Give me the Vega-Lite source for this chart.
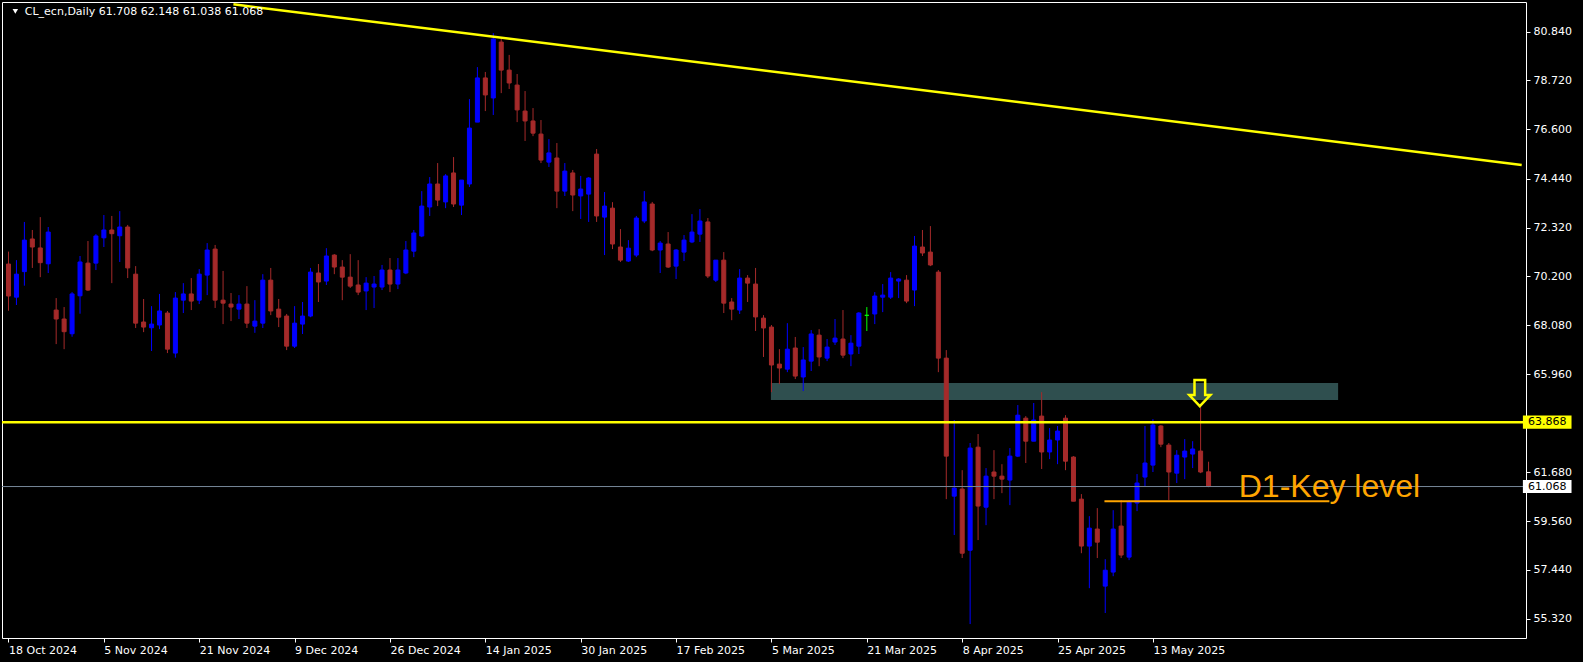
{
  "$schema": "https://vega.github.io/schema/vega-lite/v6.json",
  "width": 1524,
  "height": 636,
  "autosize": {"type": "none"},
  "padding": {"left": 2, "top": 2, "right": 57, "bottom": 24},
  "background": "#000000",
  "config": {
    "view": {"stroke": "#ffffff", "strokeWidth": 1, "fill": "#000000"},
    "axis": {"grid": false, "domain": false}
  },
  "datasets": {
    "candles": [
      {"i":0,"o":70.74,"h":71.28,"l":68.71,"c":69.35},
      {"i":1,"o":69.30,"h":70.91,"l":68.96,"c":70.30},
      {"i":2,"o":70.41,"h":72.57,"l":69.80,"c":71.78},
      {"i":3,"o":71.83,"h":72.22,"l":70.57,"c":71.48},
      {"i":4,"o":71.44,"h":72.78,"l":70.17,"c":70.80},
      {"i":5,"o":70.75,"h":72.35,"l":70.35,"c":72.13},
      {"i":6,"o":68.74,"h":69.26,"l":67.26,"c":68.35},
      {"i":7,"o":68.35,"h":68.87,"l":67.04,"c":67.80},
      {"i":8,"o":67.71,"h":69.52,"l":67.58,"c":69.44},
      {"i":9,"o":69.36,"h":71.09,"l":68.58,"c":70.83},
      {"i":10,"o":70.78,"h":71.74,"l":69.57,"c":69.61},
      {"i":11,"o":70.78,"h":72.04,"l":70.48,"c":71.96},
      {"i":12,"o":71.88,"h":72.87,"l":71.48,"c":72.22},
      {"i":13,"o":72.22,"h":72.83,"l":69.91,"c":72.06},
      {"i":14,"o":71.97,"h":73.04,"l":70.83,"c":72.35},
      {"i":15,"o":72.35,"h":72.44,"l":70.13,"c":70.57},
      {"i":16,"o":70.30,"h":70.65,"l":67.96,"c":68.17},
      {"i":17,"o":68.22,"h":69.22,"l":67.78,"c":68.00},
      {"i":18,"o":67.97,"h":68.91,"l":66.96,"c":68.13},
      {"i":19,"o":68.09,"h":69.44,"l":67.91,"c":68.70},
      {"i":20,"o":68.61,"h":68.70,"l":66.87,"c":67.04},
      {"i":21,"o":66.87,"h":69.52,"l":66.67,"c":69.26},
      {"i":22,"o":69.17,"h":69.91,"l":68.61,"c":69.44},
      {"i":23,"o":69.44,"h":70.13,"l":68.74,"c":69.13},
      {"i":24,"o":69.17,"h":70.52,"l":69.00,"c":70.30},
      {"i":25,"o":70.26,"h":71.65,"l":69.39,"c":71.35},
      {"i":26,"o":71.39,"h":71.57,"l":68.83,"c":69.17},
      {"i":27,"o":69.17,"h":70.44,"l":68.13,"c":69.04},
      {"i":28,"o":69.00,"h":69.48,"l":68.26,"c":68.87},
      {"i":29,"o":68.78,"h":69.39,"l":68.35,"c":69.00},
      {"i":30,"o":69.00,"h":69.78,"l":67.96,"c":68.17},
      {"i":31,"o":68.04,"h":69.17,"l":67.75,"c":68.26},
      {"i":32,"o":68.17,"h":70.30,"l":67.96,"c":70.04},
      {"i":33,"o":70.04,"h":70.57,"l":68.52,"c":68.70},
      {"i":34,"o":68.78,"h":69.22,"l":68.00,"c":68.43},
      {"i":35,"o":68.48,"h":68.57,"l":67.00,"c":67.17},
      {"i":36,"o":67.17,"h":68.91,"l":67.09,"c":68.17},
      {"i":37,"o":68.13,"h":69.09,"l":67.70,"c":68.48},
      {"i":38,"o":68.48,"h":70.57,"l":68.43,"c":70.39},
      {"i":39,"o":70.35,"h":70.74,"l":69.09,"c":69.96},
      {"i":40,"o":70.00,"h":71.43,"l":69.83,"c":71.09},
      {"i":41,"o":71.13,"h":71.17,"l":70.30,"c":70.61},
      {"i":42,"o":70.61,"h":70.91,"l":69.17,"c":70.17},
      {"i":43,"o":70.17,"h":71.17,"l":69.70,"c":69.78},
      {"i":44,"o":69.83,"h":70.91,"l":69.39,"c":69.52},
      {"i":45,"o":69.57,"h":70.17,"l":68.74,"c":69.91},
      {"i":46,"o":69.74,"h":70.22,"l":68.83,"c":69.87},
      {"i":47,"o":69.74,"h":70.70,"l":69.61,"c":70.48},
      {"i":48,"o":70.48,"h":71.00,"l":69.52,"c":69.87},
      {"i":49,"o":69.87,"h":71.00,"l":69.65,"c":70.48},
      {"i":50,"o":70.35,"h":71.74,"l":70.30,"c":71.35},
      {"i":51,"o":71.30,"h":72.22,"l":71.04,"c":72.09},
      {"i":52,"o":71.96,"h":73.91,"l":71.91,"c":73.26},
      {"i":53,"o":73.22,"h":74.52,"l":72.83,"c":74.22},
      {"i":54,"o":74.22,"h":75.13,"l":73.26,"c":73.52},
      {"i":55,"o":73.44,"h":74.65,"l":73.17,"c":74.57},
      {"i":56,"o":74.70,"h":75.39,"l":73.22,"c":73.35},
      {"i":57,"o":73.30,"h":74.39,"l":72.87,"c":74.39},
      {"i":58,"o":74.22,"h":77.91,"l":74.09,"c":76.65},
      {"i":59,"o":76.91,"h":79.30,"l":76.91,"c":78.83},
      {"i":60,"o":78.83,"h":79.09,"l":77.39,"c":78.09},
      {"i":61,"o":77.96,"h":80.78,"l":77.22,"c":80.52},
      {"i":62,"o":80.39,"h":80.52,"l":78.17,"c":79.17},
      {"i":63,"o":79.17,"h":79.83,"l":78.35,"c":78.61},
      {"i":64,"o":78.52,"h":79.00,"l":76.91,"c":77.44},
      {"i":65,"o":77.39,"h":78.26,"l":76.09,"c":76.96},
      {"i":66,"o":76.96,"h":77.52,"l":76.30,"c":76.43},
      {"i":67,"o":76.39,"h":77.00,"l":75.13,"c":75.26},
      {"i":68,"o":75.17,"h":76.17,"l":74.96,"c":75.57},
      {"i":69,"o":75.35,"h":76.00,"l":73.17,"c":73.91},
      {"i":70,"o":73.91,"h":75.13,"l":73.70,"c":74.78},
      {"i":71,"o":74.70,"h":74.83,"l":73.04,"c":73.74},
      {"i":72,"o":73.70,"h":74.57,"l":72.70,"c":74.00},
      {"i":73,"o":73.78,"h":74.52,"l":72.57,"c":74.48},
      {"i":74,"o":75.52,"h":75.74,"l":72.57,"c":72.83},
      {"i":75,"o":72.78,"h":73.87,"l":71.13,"c":73.26},
      {"i":76,"o":73.17,"h":73.43,"l":71.39,"c":71.61},
      {"i":77,"o":71.48,"h":72.26,"l":70.83,"c":70.91},
      {"i":78,"o":70.87,"h":71.78,"l":70.83,"c":71.43},
      {"i":79,"o":71.13,"h":72.83,"l":71.04,"c":72.74},
      {"i":80,"o":72.61,"h":73.91,"l":72.52,"c":73.44},
      {"i":81,"o":73.35,"h":73.44,"l":71.30,"c":71.35},
      {"i":82,"o":71.35,"h":71.74,"l":70.35,"c":71.65},
      {"i":83,"o":71.61,"h":72.13,"l":70.57,"c":70.61},
      {"i":84,"o":70.65,"h":71.39,"l":70.09,"c":71.35},
      {"i":85,"o":71.26,"h":72.00,"l":70.87,"c":71.78},
      {"i":86,"o":71.70,"h":72.91,"l":71.65,"c":72.13},
      {"i":87,"o":72.04,"h":73.13,"l":71.70,"c":72.61},
      {"i":88,"o":72.57,"h":72.74,"l":70.13,"c":70.22},
      {"i":89,"o":70.04,"h":70.91,"l":69.96,"c":70.91},
      {"i":90,"o":70.91,"h":71.26,"l":68.61,"c":69.04},
      {"i":91,"o":69.09,"h":69.26,"l":68.30,"c":68.78},
      {"i":92,"o":68.74,"h":70.52,"l":68.57,"c":70.13},
      {"i":93,"o":70.13,"h":70.26,"l":69.09,"c":69.91},
      {"i":94,"o":69.87,"h":70.57,"l":67.83,"c":68.44},
      {"i":95,"o":68.39,"h":68.52,"l":66.70,"c":67.96},
      {"i":96,"o":68.00,"h":68.09,"l":65.17,"c":66.35},
      {"i":97,"o":66.39,"h":67.04,"l":65.52,"c":66.22},
      {"i":98,"o":66.17,"h":68.17,"l":66.04,"c":67.04},
      {"i":99,"o":67.09,"h":67.57,"l":65.74,"c":65.87},
      {"i":100,"o":65.83,"h":67.13,"l":65.22,"c":66.57},
      {"i":101,"o":66.52,"h":67.87,"l":66.09,"c":67.70},
      {"i":102,"o":67.65,"h":67.91,"l":66.30,"c":66.70},
      {"i":103,"o":66.65,"h":67.48,"l":66.52,"c":67.13},
      {"i":104,"o":67.35,"h":68.35,"l":67.22,"c":67.52},
      {"i":105,"o":67.48,"h":68.74,"l":66.65,"c":66.78},
      {"i":106,"o":66.83,"h":67.65,"l":66.30,"c":67.30},
      {"i":107,"o":67.17,"h":68.65,"l":66.83,"c":68.61},
      {"i":108,"o":68.51,"h":68.87,"l":67.83,"c":68.51},
      {"i":109,"o":68.57,"h":69.52,"l":68.13,"c":69.35},
      {"i":110,"o":69.30,"h":69.87,"l":68.65,"c":69.39},
      {"i":111,"o":69.30,"h":70.39,"l":69.22,"c":70.13},
      {"i":112,"o":70.00,"h":70.13,"l":69.26,"c":70.09},
      {"i":113,"o":70.04,"h":70.26,"l":69.04,"c":69.13},
      {"i":114,"o":69.61,"h":71.96,"l":68.91,"c":71.52},
      {"i":115,"o":71.48,"h":72.22,"l":71.09,"c":71.22},
      {"i":116,"o":71.26,"h":72.39,"l":70.65,"c":70.70},
      {"i":117,"o":70.39,"h":70.48,"l":66.04,"c":66.65},
      {"i":118,"o":66.65,"h":67.00,"l":60.52,"c":62.39},
      {"i":119,"o":60.65,"h":63.96,"l":58.96,"c":61.00},
      {"i":120,"o":60.96,"h":61.78,"l":57.96,"c":58.17},
      {"i":121,"o":58.30,"h":62.96,"l":55.09,"c":62.74},
      {"i":122,"o":62.78,"h":63.35,"l":58.74,"c":60.22},
      {"i":123,"o":60.17,"h":61.87,"l":59.39,"c":61.52},
      {"i":124,"o":61.70,"h":62.65,"l":60.52,"c":61.52},
      {"i":125,"o":61.52,"h":62.04,"l":60.78,"c":61.39},
      {"i":126,"o":61.35,"h":62.74,"l":60.26,"c":62.39},
      {"i":127,"o":62.39,"h":64.61,"l":62.35,"c":64.17},
      {"i":128,"o":64.04,"h":64.13,"l":62.09,"c":63.04},
      {"i":129,"o":63.04,"h":64.70,"l":63.04,"c":63.96},
      {"i":130,"o":64.13,"h":65.17,"l":61.83,"c":62.57},
      {"i":131,"o":62.57,"h":63.61,"l":62.26,"c":63.09},
      {"i":132,"o":63.09,"h":63.70,"l":62.04,"c":63.48},
      {"i":133,"o":64.04,"h":64.17,"l":61.78,"c":62.17},
      {"i":134,"o":62.35,"h":62.39,"l":60.43,"c":60.43},
      {"i":135,"o":60.52,"h":60.74,"l":58.17,"c":58.48},
      {"i":136,"o":58.48,"h":59.78,"l":56.65,"c":59.26},
      {"i":137,"o":59.22,"h":60.13,"l":57.96,"c":58.65},
      {"i":138,"o":56.74,"h":57.91,"l":55.57,"c":57.43},
      {"i":139,"o":57.35,"h":60.04,"l":57.17,"c":59.22},
      {"i":140,"o":59.35,"h":60.48,"l":57.96,"c":58.09},
      {"i":141,"o":58.00,"h":60.48,"l":57.87,"c":60.39},
      {"i":142,"o":60.35,"h":61.61,"l":60.00,"c":61.22},
      {"i":143,"o":61.48,"h":63.70,"l":61.09,"c":62.09},
      {"i":144,"o":62.00,"h":64.00,"l":61.70,"c":63.74},
      {"i":145,"o":63.70,"h":63.74,"l":62.78,"c":62.91},
      {"i":146,"o":62.87,"h":62.96,"l":60.48,"c":61.70},
      {"i":147,"o":61.65,"h":62.65,"l":61.22,"c":62.43},
      {"i":148,"o":62.35,"h":63.13,"l":61.39,"c":62.61},
      {"i":149,"o":62.48,"h":63.04,"l":61.87,"c":62.70},
      {"i":150,"o":62.61,"h":64.65,"l":61.65,"c":61.70},
      {"i":151,"o":61.708,"h":62.148,"l":61.038,"c":61.068}
    ],
    "zone": [{"x1": 95.93, "x2": 167.3, "y1": 65.57, "y2": 64.83}],
    "trend": [{"i": 28.3, "v": 82.03}, {"i": 190.4, "v": 75.05}],
    "hlevel": [{"v": 63.868}],
    "bid": [{"v": 61.068}],
    "keyline": [{"x1": 137.9, "x2": 166.2, "v": 60.43}],
    "arrow": [{"i": 149.9, "v": 65.13}],
    "keytext": [{"i": 154.8, "v": 60.61, "t": "D1-Key level"}],
    "header": [{"i": 2.05, "v": 81.70, "t": "CL_ecn,Daily  61.708 62.148 61.038 61.068"}],
    "headtri": [{"i": 0.86, "v": 81.72}],
    "pricebox": [
      {"x1": 190.55, "x2": 196.67, "lo": 63.585, "hi": 64.151, "v": 63.868, "xt": 191.2, "t": "63.868", "bg": "#ffff00"},
      {"x1": 190.55, "x2": 196.67, "lo": 60.785, "hi": 61.351, "v": 61.068, "xt": 191.2, "t": "61.068", "bg": "#ffffff"}
    ]
  },
  "layer": [
    {
      "data": {"name": "zone"},
      "mark": {"type": "rect", "fill": "#2f4f4f"},
      "encoding": {
        "x": {
          "field": "x1", "type": "quantitative",
          "scale": {"domain": [-0.1875, 190.3125], "nice": false, "zero": false},
          "axis": {
            "orient": "bottom", "title": null,
            "values": [0,12,24,36,48,60,72,84,96,108,120,132,144],
            "labelExpr": "['18 Oct 2024','5 Nov 2024','21 Nov 2024','9 Dec 2024','26 Dec 2024','14 Jan 2025','30 Jan 2025','17 Feb 2025','5 Mar 2025','21 Mar 2025','8 Apr 2025','25 Apr 2025','13 May 2025'][round(datum.value/12)]",
            "labelAlign": "left", "labelBaseline": "top", "labelColor": "#ffffff",
            "labelFont": "DejaVu Sans", "labelFontSize": 11, "labelPadding": 2,
            "labelFlush": false, "labelOverlap": false,
            "tickColor": "#ffffff", "tickSize": 4, "ticks": true
          }
        },
        "x2": {"field": "x2"},
        "y": {
          "field": "y1", "type": "quantitative",
          "scale": {"domain": [54.484, 82.131], "nice": false, "zero": false},
          "axis": {
            "orient": "right", "title": null,
            "values": [80.84, 78.72, 76.6, 74.44, 72.32, 70.2, 68.08, 65.96, 61.68, 59.56, 57.44, 55.32],
            "format": ".3f",
            "labelColor": "#ffffff", "labelFont": "DejaVu Sans", "labelFontSize": 11,
            "labelPadding": 3, "labelBaseline": "middle", "labelFlush": false, "labelOverlap": false,
            "tickColor": "#ffffff", "tickSize": 4
          }
        },
        "y2": {"field": "y2"}
      }
    },
    {
      "data": {"name": "candles"},
      "mark": {"type": "rule", "strokeWidth": 1},
      "encoding": {
        "x": {"field": "i", "type": "quantitative", "scale": {"domain": [-0.1875, 190.3125], "nice": false, "zero": false}},
        "y": {"field": "l", "type": "quantitative", "scale": {"domain": [54.484, 82.131], "nice": false, "zero": false}},
        "y2": {"field": "h"},
        "color": {
          "condition": [
            {"test": "datum.c > datum.o", "value": "#0000ff"},
            {"test": "datum.c == datum.o", "value": "#00ff00"}
          ],
          "value": "#a52a2a"
        }
      }
    },
    {
      "data": {"name": "candles"},
      "mark": {"type": "bar", "size": 4, "strokeWidth": 1},
      "encoding": {
        "x": {"field": "i", "type": "quantitative", "scale": {"domain": [-0.1875, 190.3125], "nice": false, "zero": false}},
        "y": {"field": "o", "type": "quantitative", "scale": {"domain": [54.484, 82.131], "nice": false, "zero": false}},
        "y2": {"field": "c"},
        "fill": {
          "condition": [
            {"test": "datum.c > datum.o", "value": "#0000ff"},
            {"test": "datum.c == datum.o", "value": "#00ff00"}
          ],
          "value": "#a52a2a"
        },
        "stroke": {
          "condition": [
            {"test": "datum.c > datum.o", "value": "#0000ff"},
            {"test": "datum.c == datum.o", "value": "#00ff00"}
          ],
          "value": "#a52a2a"
        }
      }
    },
    {
      "data": {"name": "bid"},
      "mark": {"type": "rule", "stroke": "#778899", "strokeWidth": 1},
      "encoding": {
        "y": {"field": "v", "type": "quantitative", "scale": {"domain": [54.484, 82.131], "nice": false, "zero": false}}
      }
    },
    {
      "data": {"name": "hlevel"},
      "mark": {"type": "rule", "stroke": "#ffff00", "strokeWidth": 2.5},
      "encoding": {
        "y": {"field": "v", "type": "quantitative", "scale": {"domain": [54.484, 82.131], "nice": false, "zero": false}}
      }
    },
    {
      "data": {"name": "trend"},
      "mark": {"type": "line", "stroke": "#ffff00", "strokeWidth": 2.5, "clip": true},
      "encoding": {
        "x": {"field": "i", "type": "quantitative", "scale": {"domain": [-0.1875, 190.3125], "nice": false, "zero": false}},
        "y": {"field": "v", "type": "quantitative", "scale": {"domain": [54.484, 82.131], "nice": false, "zero": false}}
      }
    },
    {
      "data": {"name": "keyline"},
      "mark": {"type": "rule", "stroke": "#ffa500", "strokeWidth": 2},
      "encoding": {
        "x": {"field": "x1", "type": "quantitative", "scale": {"domain": [-0.1875, 190.3125], "nice": false, "zero": false}},
        "x2": {"field": "x2"},
        "y": {"field": "v", "type": "quantitative", "scale": {"domain": [54.484, 82.131], "nice": false, "zero": false}}
      }
    },
    {
      "data": {"name": "arrow"},
      "mark": {
        "type": "point",
        "shape": "M-0.41,-1L0.41,-1L0.41,0.15L0.81,0.15L0,1L-0.81,0.15L-0.41,0.15Z",
        "size": 676, "filled": false, "stroke": "#ffff00", "strokeWidth": 2.5, "opacity": 1
      },
      "encoding": {
        "x": {"field": "i", "type": "quantitative", "scale": {"domain": [-0.1875, 190.3125], "nice": false, "zero": false}},
        "y": {"field": "v", "type": "quantitative", "scale": {"domain": [54.484, 82.131], "nice": false, "zero": false}}
      }
    },
    {
      "data": {"name": "keytext"},
      "mark": {"type": "text", "align": "left", "baseline": "alphabetic", "font": "Liberation Sans", "fontSize": 32, "fill": "#ffa500"},
      "encoding": {
        "x": {"field": "i", "type": "quantitative", "scale": {"domain": [-0.1875, 190.3125], "nice": false, "zero": false}},
        "y": {"field": "v", "type": "quantitative", "scale": {"domain": [54.484, 82.131], "nice": false, "zero": false}},
        "text": {"field": "t"}
      }
    },
    {
      "data": {"name": "header"},
      "mark": {"type": "text", "align": "left", "baseline": "middle", "font": "DejaVu Sans", "fontSize": 11, "fill": "#ffffff"},
      "encoding": {
        "x": {"field": "i", "type": "quantitative", "scale": {"domain": [-0.1875, 190.3125], "nice": false, "zero": false}},
        "y": {"field": "v", "type": "quantitative", "scale": {"domain": [54.484, 82.131], "nice": false, "zero": false}},
        "text": {"field": "t"}
      }
    },
    {
      "data": {"name": "headtri"},
      "mark": {"type": "point", "shape": "triangle-down", "size": 30, "filled": true, "fill": "#ffffff", "opacity": 1},
      "encoding": {
        "x": {"field": "i", "type": "quantitative", "scale": {"domain": [-0.1875, 190.3125], "nice": false, "zero": false}},
        "y": {"field": "v", "type": "quantitative", "scale": {"domain": [54.484, 82.131], "nice": false, "zero": false}}
      }
    },
    {
      "data": {"name": "pricebox"},
      "mark": {"type": "rect", "clip": false},
      "encoding": {
        "x": {"field": "x1", "type": "quantitative", "scale": {"domain": [-0.1875, 190.3125], "nice": false, "zero": false}},
        "x2": {"field": "x2"},
        "y": {"field": "lo", "type": "quantitative", "scale": {"domain": [54.484, 82.131], "nice": false, "zero": false}},
        "y2": {"field": "hi"},
        "fill": {"field": "bg", "type": "nominal", "scale": null}
      }
    },
    {
      "data": {"name": "pricebox"},
      "mark": {"type": "text", "align": "left", "baseline": "middle", "font": "DejaVu Sans", "fontSize": 11, "fill": "#000000", "clip": false},
      "encoding": {
        "x": {"field": "xt", "type": "quantitative", "scale": {"domain": [-0.1875, 190.3125], "nice": false, "zero": false}},
        "y": {"field": "v", "type": "quantitative", "scale": {"domain": [54.484, 82.131], "nice": false, "zero": false}},
        "text": {"field": "t"}
      }
    }
  ]
}
